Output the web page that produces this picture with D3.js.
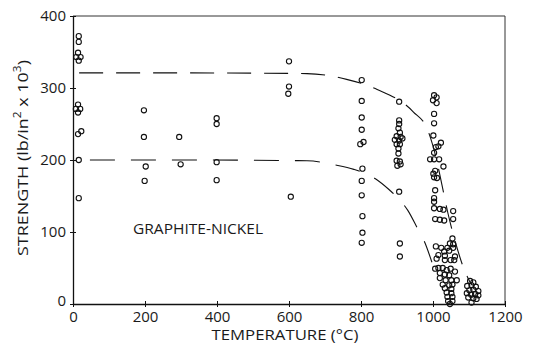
<!DOCTYPE html>
<html>
<head>
<meta charset="utf-8">
<script src="https://cdn.jsdelivr.net/npm/d3@7"></script>
<style>
  html, body { margin: 0; padding: 0; background: #fff; }
  svg { display: block; }
  text { font-family: "Open Sans", "DejaVu Sans", sans-serif; font-weight: 400; fill: #1a1a1a; }
</style>
</head>
<body>
<svg id="chart" width="537" height="346"></svg>
<script>
// ---------- data (temperature °C, strength in 10^3 lb/in^2) ----------
const xTicks = [0, 200, 400, 600, 800, 1000, 1200];
const yTicks = [0, 100, 200, 300, 400];
const xTitle = "TEMPERATURE (°C)";
const chartLabel = "GRAPHITE-NICKEL";

const roomTemp = [[16,372],[16,364],[14,349],[9,343],[21,343],[16,338],
  [14,277],[8,271],[20,271],[14,266],[23,240],[14,236],[16,200],[16,147]];
const t200 = [[197,269],[197,232],[202,191],[199,171]];
const t300 = [[295,232],[299,194]];
const t400 = [[399,258],[399,250],[399,197],[399,172]];
const t600 = [[600,337],[600,302],[598,292],[605,149]];
const t800 = [[802,311],[802,282],[802,259],[802,242],[798,222],[807,225],
  [804,188],[802,171],[802,151],[804,122],[804,99],[802,85]];
const t900 = [[906,281],[906,255],[906,250],[904,244],[908,238],[899,233],
  [910,232],[894,228],[906,227],[915,230],[899,222],[908,222],[904,216],
  [904,209],[899,199],[908,198],[901,192],[910,194],[906,156],[908,84],[908,66]];
const t1000 = [[1003,290],[1010,287],[1000,283],[1010,279],[1003,264],[1003,251],
  [1001,234],[1022,224],[1015,219],[1008,218],[1003,210],[992,201],[1003,201],
  [1017,201],[1029,191],[1006,185],[1001,181],[1003,176],[1011,175],[1006,158],
  [1003,147],[1003,142],[1003,133],[1019,132],[1029,131],[1056,129],
  [1006,118],[1019,117],[1031,116],[1056,118],[1054,91],[1047,84],[1056,83],
  [1008,80],[1023,78],[1031,73],[1040,78],[1045,74],[1056,78],[1015,68],
  [1033,67],[1061,66],[1010,63],[1033,61],[1049,61],[1059,61],
  [1006,49],[1015,50],[1027,50],[1038,47],[1049,49],[1061,45],
  [1019,43],[1033,41],[1045,40],[1019,36],[1035,33],[1051,33],[1066,33],
  [1027,27],[1045,26],[1054,27],[1033,22],[1051,21],[1038,16],[1051,15],
  [1040,10],[1054,10],[1042,4],[1054,4],[1047,0]];
const t1100 = [[1103,32],[1112,30],[1095,25],[1107,26],[1119,24],[1101,19],
  [1112,20],[1126,18],[1094,15],[1106,13],[1117,14],[1126,12],[1098,9],
  [1112,8],[1121,7],[1107,2]];

// dashed trend curves (knots)
const upperCurve = [[17,321],[300,321],[650,320],[760,312],[845,298],[945,267],
  [985,242],[1010,200],[1025,165],[1042,125],[1060,90],[1085,50],[1105,28]];
const lowerCurve = [[47,200],[300,200],[650,199],[730,193],[780,187],[840,174],
  [880,158],[905,146],[930,130],[960,102],[975,88],[997,58]];

// ---------- drawing ----------
const svg = d3.select("#chart");
const x = d3.scaleLinear().domain([0, 1200]).range([73, 505]);
const y = d3.scaleLinear().domain([0, 400]).range([304, 16]);

// frame (top & right)
svg.append("line").attr("x1", x(0)).attr("x2", x(1200)).attr("y1", y(400)).attr("y2", y(400))
  .attr("stroke", "#333").attr("stroke-width", 1);
svg.append("line").attr("x1", x(1200)).attr("x2", x(1200)).attr("y1", y(400)).attr("y2", y(0))
  .attr("stroke", "#333").attr("stroke-width", 1);

// x axis
const gx = svg.append("g").attr("transform", `translate(0,${y(0)})`)
  .call(d3.axisBottom(x).tickValues(xTicks).tickSizeInner(3).tickSizeOuter(0).tickPadding(4)
    .tickFormat(d3.format("d")));
gx.select(".domain").attr("stroke", "#111").attr("stroke-width", 1.3);
gx.selectAll(".tick line").attr("y1", -3).attr("y2", 3).attr("stroke", "#111");
gx.selectAll(".tick text").style("font-size", "15px").attr("fill", "#1a1a1a");

// y axis
const gy = svg.append("g").attr("transform", `translate(${x(0)},0)`)
  .call(d3.axisLeft(y).tickValues(yTicks).tickSizeInner(3).tickSizeOuter(0).tickPadding(4)
    .tickFormat(d3.format("d")));
gy.select(".domain").attr("stroke", "#111").attr("stroke-width", 1.3);
gy.selectAll(".tick line").attr("x1", -3).attr("x2", 3).attr("stroke", "#111");
gy.selectAll(".tick text").style("font-size", "15px").attr("fill", "#1a1a1a");
gy.selectAll(".tick").filter(d => d === 0).select("text").attr("dy", "0.1em");

// axis titles
svg.append("text").attr("x", 285).attr("y", 340).attr("text-anchor", "middle")
  .style("font-size", "15px").attr("textLength", 147).attr("lengthAdjust", "spacingAndGlyphs")
  .text(xTitle);

const yt = svg.append("text").attr("transform", "translate(28,158) rotate(-90)")
  .attr("text-anchor", "middle").style("font-size", "15px")
  .attr("textLength", 196).attr("lengthAdjust", "spacingAndGlyphs");
yt.append("tspan").text("STRENGTH (lb/in");
yt.append("tspan").attr("baseline-shift", "super").style("font-size", "10px").text("2");
yt.append("tspan").text(" x 10");
yt.append("tspan").attr("baseline-shift", "super").style("font-size", "10px").text("3");
yt.append("tspan").text(")");

// inner label
svg.append("text").attr("x", 133).attr("y", 234).style("font-size", "15px")
  .attr("textLength", 130).attr("lengthAdjust", "spacingAndGlyphs").text(chartLabel);

// dashed curves
const line = d3.line().x(d => x(d[0])).y(d => y(d[1])).curve(d3.curveMonotoneX);
svg.append("path").datum(upperCurve).attr("d", line).attr("fill", "none")
  .attr("stroke", "#111").attr("stroke-width", 1.1).attr("stroke-dasharray", "24,13");
svg.append("path").datum(lowerCurve).attr("d", line).attr("fill", "none")
  .attr("stroke", "#111").attr("stroke-width", 1.1).attr("stroke-dasharray", "25,16");

// points
const allPoints = [].concat(roomTemp, t200, t300, t400, t600, t800, t900, t1000, t1100);
svg.append("g").selectAll("circle").data(allPoints).join("circle")
  .attr("cx", d => x(d[0])).attr("cy", d => y(d[1])).attr("r", 2.6)
  .attr("fill", "none").attr("stroke", "#111").attr("stroke-width", 1.1);
</script>
</body>
</html>
